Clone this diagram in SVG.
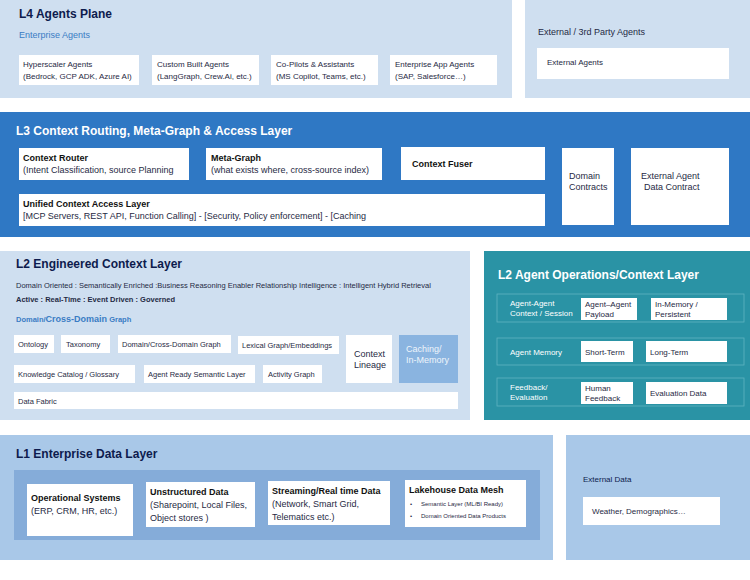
<svg xmlns="http://www.w3.org/2000/svg" width="750" height="580" viewBox="0 0 750 580">
<style>
text{font-family:"Liberation Sans",Arial,sans-serif;font-size:8px;fill:#1f2a44}
.t{font-size:12px;font-weight:bold;fill:#0d1b4d}
.tw{font-size:12px;font-weight:bold;fill:#fff}
.b{font-weight:bold;font-size:9px;fill:#111}
.w{fill:#fff}
.bd{fill:#fff;stroke:#9fc7cf;stroke-width:0.8}
.band{fill:none;stroke:#5fb3c0;stroke-width:0.8}
.lt{fill:#fff;font-size:8px}
</style>
<rect width="750" height="580" fill="#fff"/>
<g id="l4">
<rect x="0" y="0" width="512" height="98" fill="#cfdff0"/>
<text x="19" y="18" class="t">L4 Agents Plane</text>
<text x="19" y="38" style="font-size:9px;fill:#3a7cc4">Enterprise Agents</text>
<rect x="19" y="55" width="120" height="30" class="w"/><text x="23" y="67">Hyperscaler Agents</text><text x="23" y="79">(Bedrock, GCP ADK, Azure AI)</text>
<rect x="152" y="55" width="107" height="30" class="w"/><text x="157" y="67">Custom Built Agents</text><text x="157" y="79">(LangGraph, Crew.Ai, etc.)</text>
<rect x="271" y="55" width="107" height="30" class="w"/><text x="276" y="67">Co-Pilots &amp; Assistants</text><text x="276" y="79">(MS Copilot, Teams, etc.)</text>
<rect x="390" y="55" width="107" height="30" class="w"/><text x="395" y="67">Enterprise App Agents</text><text x="395" y="79">(SAP, Salesforce…)</text>
</g>
<g id="ext-agents">
<rect x="525" y="0" width="225" height="98" fill="#cfdff0"/>
<text x="538" y="35" style="font-size:9px">External / 3rd Party Agents</text>
<rect x="537" y="48" width="192" height="31" class="w"/><text x="547" y="65">External Agents</text>
</g>
<g id="l3">
<rect x="0" y="112" width="750" height="125" fill="#2f78c4"/>
<text x="16" y="135" class="tw">L3 Context Routing, Meta-Graph &amp; Access Layer</text>
<rect x="19" y="148" width="170" height="32" class="w"/><text x="23" y="161" class="b">Context Router</text><text x="23" y="173" style="font-size:9px">(Intent Classification, source Planning</text>
<rect x="206" y="148" width="176" height="32" class="w"/><text x="211" y="161" class="b">Meta-Graph</text><text x="211" y="173" style="font-size:9px">(what exists where, cross-source index)</text>
<rect x="401" y="147" width="144" height="33" class="w"/><text x="412" y="167" class="b">Context Fuser</text>
<rect x="19" y="194" width="526" height="32" class="w"/><text x="23" y="207" class="b">Unified Context Access Layer</text><text x="23" y="219" style="font-size:9px">[MCP Servers, REST API, Function Calling] - [Security, Policy enforcement] - [Caching</text>
<rect x="562" y="148" width="52" height="77" class="w"/><text x="569" y="179" style="font-size:9px">Domain</text><text x="569" y="190" style="font-size:9px">Contracts</text>
<rect x="631" y="148" width="98" height="77" class="w"/><text x="641" y="179" style="font-size:9px">External Agent</text><text x="644" y="190" style="font-size:9px">Data Contract</text>
</g>
<g id="l2e">
<rect x="0" y="251" width="470" height="169" fill="#cfdff0"/>
<text x="16" y="268" class="t">L2 Engineered Context Layer</text>
<text x="16" y="288" style="font-size:7.5px">Domain Oriented : Semantically Enriched :Business Reasoning Enabler  Relationship Intelligence : Intelligent Hybrid Retrieval</text>
<text x="16" y="302" style="font-size:7.5px;font-weight:bold">Active : Real-Time : Event Driven : Governed</text>
<text x="16" y="322" style="font-size:7.5px;fill:#3a7cc4;font-weight:bold">Domain/<tspan style="font-size:9px">Cross-Domain</tspan> Graph</text>
<rect x="14" y="335" width="40" height="18" class="w"/><text x="18" y="347" style="font-size:7.5px">Ontology</text>
<rect x="61" y="335" width="49" height="18" class="w"/><text x="66" y="347" style="font-size:7.5px">Taxonomy</text>
<rect x="118" y="335" width="113" height="18" class="w"/><text x="122" y="347" style="font-size:7.5px">Domain/Cross-Domain Graph</text>
<rect x="238" y="336" width="101" height="18" class="w"/><text x="242" y="348" style="font-size:7.5px">Lexical Graph/Embeddings</text>
<rect x="14" y="365" width="121" height="18" class="w"/><text x="18" y="377" style="font-size:7.5px">Knowledge Catalog / Glossary</text>
<rect x="144" y="365" width="111" height="18" class="w"/><text x="148" y="377" style="font-size:7.5px">Agent Ready Semantic Layer</text>
<rect x="263" y="365" width="59" height="18" class="w"/><text x="268" y="377" style="font-size:7.5px">Activity Graph</text>
<rect x="346" y="335" width="46" height="48" class="w"/><text x="354" y="357" style="font-size:9px">Context</text><text x="354" y="368" style="font-size:9px">Lineage</text>
<rect x="399" y="335" width="59" height="48" fill="#8ab4e0"/><text x="406" y="352" style="font-size:9px;fill:#eef4fb">Caching/</text><text x="406" y="363" style="font-size:9px;fill:#eef4fb">In-Memory</text>
<rect x="14" y="392" width="444" height="17" class="w"/><text x="18" y="404" style="font-size:7.5px">Data Fabric</text>
</g>
<g id="l2a">
<rect x="484" y="251" width="266" height="169" fill="#2a93a5"/>
<text x="498" y="279" class="tw">L2 Agent Operations/Context Layer</text>
<rect x="497" y="294" width="247" height="28" class="band"/>
<text x="510" y="306" class="lt">Agent-Agent</text><text x="510" y="316" class="lt">Context / Session</text>
<rect x="581" y="298" width="56" height="22" class="w"/><text x="585" y="307">Agent–Agent</text><text x="585" y="317">Payload</text>
<rect x="651" y="298" width="76" height="22" class="w"/><text x="655" y="307">In-Memory /</text><text x="655" y="317">Persistent</text>
<rect x="497" y="338" width="247" height="27" class="band"/>
<text x="510" y="355" class="lt">Agent Memory</text>
<rect x="581" y="341" width="52" height="21" class="w"/><text x="585" y="355">Short-Term</text>
<rect x="646" y="341" width="81" height="21" class="w"/><text x="650" y="355">Long-Term</text>
<rect x="497" y="378" width="247" height="28" class="band"/>
<text x="510" y="390" class="lt">Feedback/</text><text x="510" y="400" class="lt">Evaluation</text>
<rect x="581" y="382" width="52" height="22" class="w"/><text x="585" y="391">Human</text><text x="585" y="401">Feedback</text>
<rect x="646" y="382" width="81" height="22" class="w"/><text x="650" y="396">Evaluation Data</text>
</g>
<g id="l1">
<rect x="0" y="435" width="553" height="125" fill="#a9c8e8"/>
<text x="16" y="458" class="t">L1 Enterprise Data Layer</text>
<rect x="14" y="470" width="526" height="70" fill="#85acd9"/>
<rect x="27" y="484" width="106" height="52" class="w"/><text x="31" y="501" class="b">Operational Systems</text><text x="31" y="514" style="font-size:9px">(ERP, CRM, HR, etc.)</text>
<rect x="146" y="482" width="109" height="45" class="w"/><text x="150" y="495" class="b">Unstructured Data</text><text x="150" y="508" style="font-size:9px">(Sharepoint, Local Files,</text><text x="150" y="521" style="font-size:9px">Object stores )</text>
<rect x="268" y="481" width="122" height="44" class="w"/><text x="272" y="494" class="b">Streaming/Real time Data</text><text x="272" y="507" style="font-size:9px">(Network, Smart Grid,</text><text x="272" y="520" style="font-size:9px">Telematics etc.)</text>
<rect x="405" y="480" width="121" height="47" class="w"/><text x="409" y="493" class="b">Lakehouse Data Mesh</text>
<text x="410" y="506" style="font-size:6px">•</text><text x="421" y="506" style="font-size:6px">Semantic Layer (ML/BI Ready)</text>
<text x="410" y="518" style="font-size:6px">•</text><text x="421" y="518" style="font-size:6px">Domain Oriented Data Products</text>
</g>
<g id="ext-data">
<rect x="566" y="435" width="184" height="125" fill="#a9c8e8"/>
<text x="583" y="482" style="font-size:8px;fill:#0d1b4d">External Data</text>
<rect x="583" y="497" width="137" height="28" class="w"/><text x="592" y="514">Weather, Demographics…</text>
</g>
<g id="connectors"/>
</svg>
